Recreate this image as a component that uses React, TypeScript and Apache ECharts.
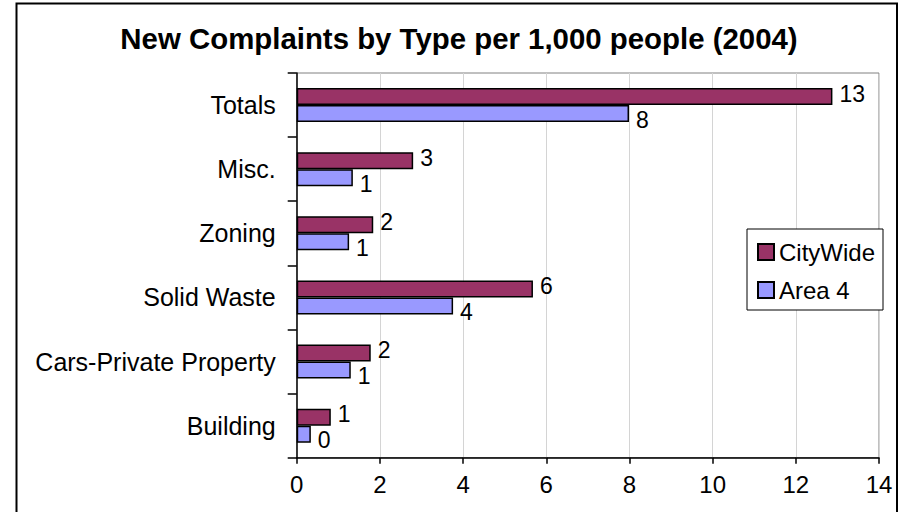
import React, { useEffect, useRef } from "react";
import * as echarts from "echarts";

const categories = ["Building", "Cars-Private Property", "Solid Waste", "Zoning", "Misc.", "Totals"];
const cityWide = [0.82, 1.78, 5.68, 1.84, 2.8, 12.88];
const area4 = [0.34, 1.3, 3.76, 1.26, 1.35, 7.99];
const xTicks = [0, 2, 4, 6, 8, 10, 12, 14];
const titleText = "New Complaints by Type per 1,000 people (2004)";

const FONT = "'Liberation Sans', Arial, sans-serif";

export default function App() {
  const ref = useRef<HTMLDivElement>(null);
  useEffect(() => {
    if (!ref.current) return;
    const chart = echarts.init(ref.current, undefined, { renderer: "svg" });
    const labelFmt = (p: any) => String(Math.round(p.value));
    chart.setOption({
      animation: false,
      backgroundColor: "#ffffff",
      textStyle: { fontFamily: FONT },
      title: {
        text: titleText,
        left: 459,
        top: 24,
        textAlign: "center",
        padding: 0,
        textStyle: { fontFamily: FONT, fontSize: 29.4, fontWeight: "bold", color: "#000" },
      },
      legend: {
        data: ["CityWide", "Area 4"],
        orient: "vertical",
        left: 747,
        top: 229,
        padding: [11, 8, 8, 10],
        itemWidth: 16,
        itemHeight: 16,
        itemGap: 14,
        icon: "rect",
        backgroundColor: "#fff",
        borderColor: "#000",
        borderWidth: 1,
        textStyle: { fontFamily: FONT, fontSize: 24, color: "#000" },
      },
      grid: {
        left: 296.7,
        right: 23,
        top: 73,
        bottom: 54.3,
        show: true,
        borderColor: "#808080",
        borderWidth: 1,
        backgroundColor: "#fff",
      },
      xAxis: {
        type: "value",
        min: xTicks[0],
        max: xTicks[xTicks.length - 1],
        interval: 2,
        axisLine: { show: true, lineStyle: { color: "#000", width: 1.5 } },
        axisTick: { show: true, length: 6, lineStyle: { color: "#000", width: 1.5 } },
        axisLabel: { fontFamily: FONT, fontSize: 24, color: "#000", margin: 15 },
        splitLine: { show: true, lineStyle: { color: "#d4d4d4", width: 1 } },
      },
      yAxis: {
        type: "category",
        data: categories,
        axisLine: { show: true, lineStyle: { color: "#000", width: 1.5 } },
        axisTick: { show: true, length: 9, lineStyle: { color: "#000", width: 1.5 } },
        axisLabel: { fontFamily: FONT, fontSize: 25, color: "#000", margin: 21 },
        splitLine: { show: false },
      },
      series: [
        {
          name: "CityWide",
          type: "bar",
          data: cityWide,
          barWidth: 17,
          barGap: "0%",
          itemStyle: { color: "#993366", borderColor: "#000", borderWidth: 1.5 },
          label: {
            show: true,
            position: "right",
            distance: 7,
            offset: [0, -3],
            formatter: labelFmt,
            fontFamily: FONT,
            fontSize: 23,
            color: "#000",
          },
        },
        {
          name: "Area 4",
          type: "bar",
          data: area4,
          barWidth: 17,
          barGap: "0%",
          itemStyle: { color: "#9999ff", borderColor: "#000", borderWidth: 1.5 },
          label: {
            show: true,
            position: "right",
            distance: 7,
            offset: [0, 6],
            formatter: labelFmt,
            fontFamily: FONT,
            fontSize: 23,
            color: "#000",
          },
        },
      ],
      graphic: [
        {
          type: "rect",
          shape: { x: 16.5, y: 3.5, width: 880.5, height: 600 },
          style: { fill: "none", stroke: "#000", lineWidth: 2 },
          silent: true,
          z: 100,
        },
      ],
    });
    return () => chart.dispose();
  }, []);
  return (
    <div
      ref={ref}
      style={{ position: "absolute", left: 0, top: 0, width: 902, height: 512 }}
    />
  );
}
